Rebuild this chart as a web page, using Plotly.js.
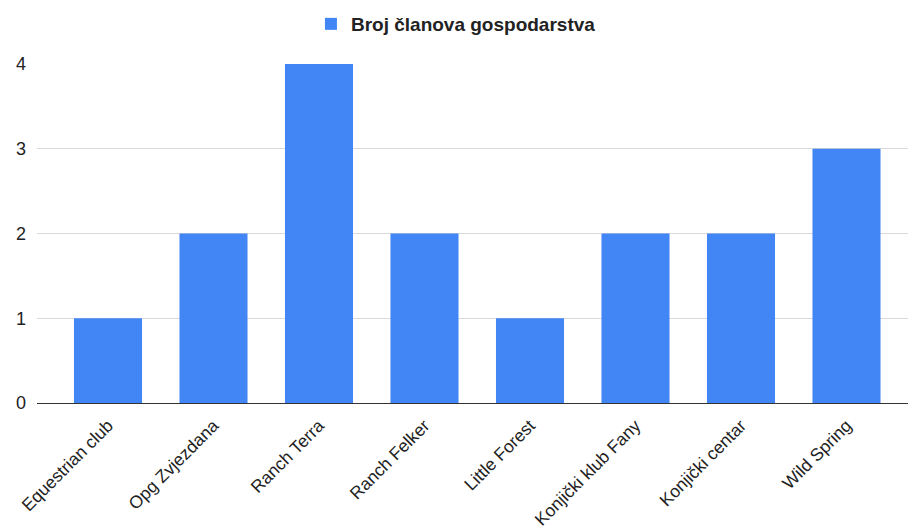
<!DOCTYPE html>
<html><head><meta charset="utf-8">
<script src="https://cdn.plot.ly/plotly-3.0.1.min.js"></script>
<style>html,body{margin:0;padding:0;background:#fff}#c{width:908px;height:529px}</style>
</head><body><div id="c"></div>
<script>
const categories = ["Equestrian club","Opg Zvjezdana","Ranch Terra","Ranch Felker","Little Forest","Konjički klub Fany","Konjički centar","Wild Spring"];
const values = [1,2,4,2,1,2,2,3];
const seriesName = "Broj članova gospodarstva";
const yTicks = [0,1,2,3,4];

Plotly.newPlot('c', [{
  type:'bar', x:categories, y:values, name:seriesName,
  marker:{color:'#4285F4'}, width:0.645, showlegend:true, hoverinfo:'x+y'
}], {
  width:908, height:529,
  margin:{l:37,r:0,t:64,b:126},
  paper_bgcolor:'#fff', plot_bgcolor:'#fff',
  font:{family:'Liberation Sans, Arial, sans-serif', size:17, color:'#222'},
  showlegend:true,
  legend:{orientation:'h', x:0.481, xanchor:'center', y:1.118, yanchor:'middle',
    font:{size:19, color:'#222', weight:'bold', family:'Liberation Sans, Arial, sans-serif'}},
  xaxis:{type:'category', range:[-0.673,7.583], tickangle:-45, showgrid:false, automargin:false,
    showline:false, zeroline:false, ticks:'', ticklabelstandoff:8, tickfont:{size:17.5,color:'#222'}, fixedrange:true},
  yaxis:{range:[0,4], tickvals:yTicks, ticktext:yTicks.map(String), showgrid:true, automargin:false,
    gridcolor:'#d9d9d9', gridwidth:1, zeroline:true, zerolinecolor:'#333', zerolinewidth:1,
    ticks:'', ticklabelstandoff:10, tickfont:{size:18,color:'#222'}, fixedrange:true}
}, {displayModeBar:false, staticPlot:true});
</script></body></html>
